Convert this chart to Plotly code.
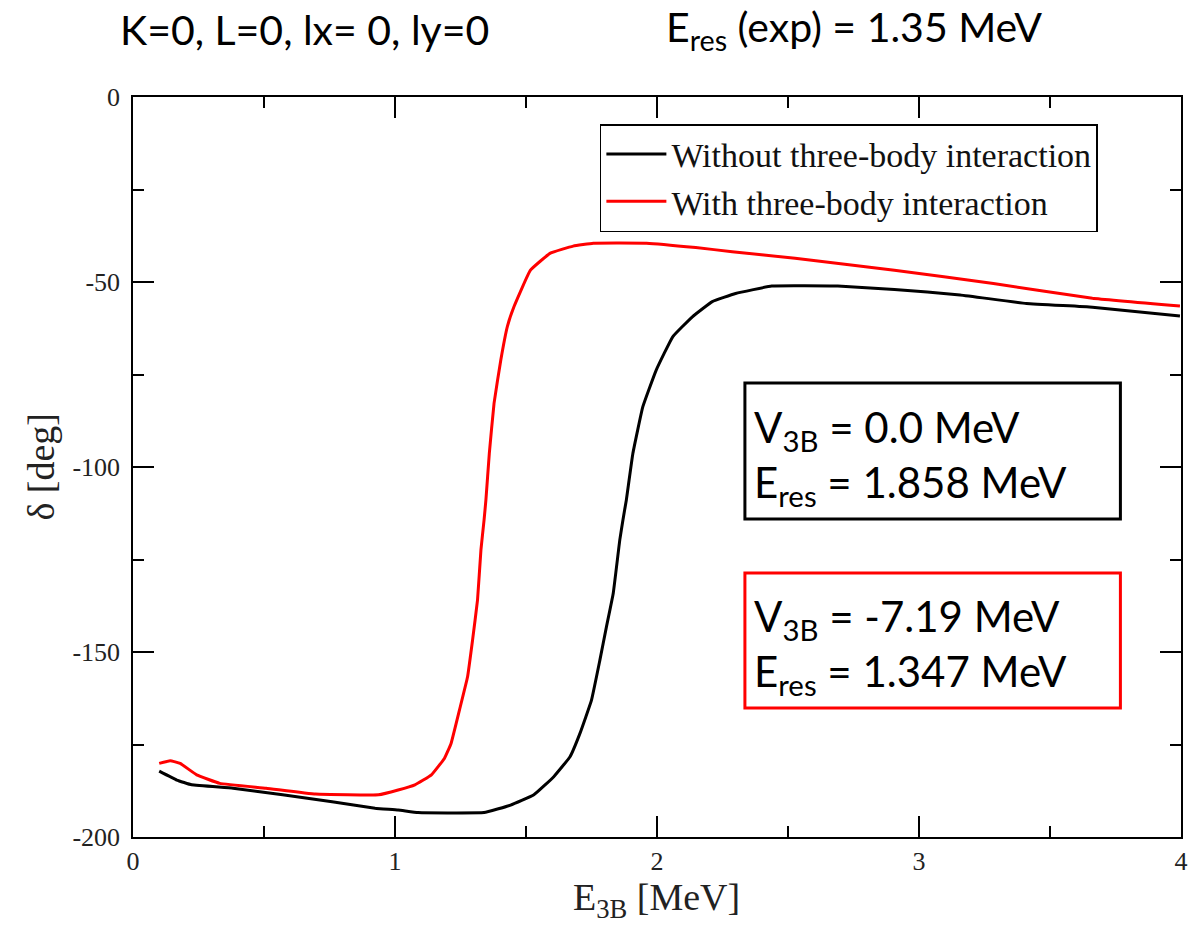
import plotly.graph_objects as go

# ---- data ----
e_without = [0.1, 0.167, 0.224, 0.382, 0.571, 0.76, 0.924, 1.012, 1.088, 1.2, 1.34, 1.441, 1.53,
             1.606, 1.668, 1.706, 1.75, 1.782, 1.807, 1.833, 1.858, 1.87, 1.883, 1.908, 1.946,
             1.997, 2.06, 2.135, 2.211, 2.3, 2.438, 2.69, 2.906, 3.157, 3.41, 3.662, 3.996]
d_without = [-182.2, -184.6, -185.9, -186.8, -188.6, -190.5, -192.2, -192.7, -193.4, -193.5,
             -193.4, -191.4, -188.6, -183.7, -178.3, -172.0, -163.0, -152.2, -143.2, -134.1,
             -119.7, -114.3, -108.9, -96.3, -83.7, -73.8, -64.8, -59.4, -55.3, -53.1, -51.1,
             -51.1, -52.0, -53.5, -55.8, -56.8, -59.2]

e_with = [0.1, 0.142, 0.18, 0.243, 0.331, 0.508, 0.697, 0.937, 1.012, 1.076, 1.139, 1.189, 1.214,
          1.246, 1.277, 1.296, 1.315, 1.328, 1.34, 1.347, 1.36, 1.378, 1.404, 1.429, 1.454, 1.517,
          1.593, 1.68, 1.757, 1.96, 2.148, 2.287, 2.527, 2.906, 3.284, 3.662, 3.996]
d_with = [-180.1, -179.4, -180.1, -183.2, -185.5, -186.8, -188.4, -188.6, -187.3, -185.9, -183.2,
          -178.7, -174.7, -165.7, -156.7, -146.8, -135.9, -122.4, -114.3, -108.9, -96.3, -82.8,
          -71.0, -62.0, -56.7, -46.8, -42.2, -40.3, -39.5, -39.5, -40.7, -41.8, -43.6, -46.8,
          -50.4, -54.4, -56.5]

x_tickvals = [0, 1, 2, 3, 4]
x_ticktext = ["0", "1", "2", "3", "4"]
y_tickvals = [0, -50, -100, -150, -200]
y_ticktext = ["0", "-50", "-100", "-150", "-200"]

series_names = ["Without three-body interaction", "With three-body interaction"]
title_left = "K=0, L=0, lx= 0, ly=0"
title_right = "E<sub>res</sub> (exp) = 1.35 MeV"
box1_lines = ["V<sub>3B</sub> = 0.0 MeV", "E<sub>res</sub> = 1.858 MeV"]
box2_lines = ["V<sub>3B</sub> = -7.19 MeV", "E<sub>res</sub> = 1.347 MeV"]

# ---- layout geometry (pixels) ----
W, H = 1196, 929
L, R, T, B = 133, 1188, 97, 837
pw, ph = R - L, B - T


def px(x):
    return (x - L) / pw


def py(y):
    return (B - y) / ph


serif = "Liberation Serif, Times New Roman, serif"
sans = "Lato, Open Sans, sans-serif"

fig = go.Figure()
fig.add_trace(go.Scatter(x=e_without, y=d_without, mode="lines", name=series_names[0],
                         line=dict(color="black", width=3, shape="spline", smoothing=0.3)))
fig.add_trace(go.Scatter(x=e_with, y=d_with, mode="lines", name=series_names[1],
                         line=dict(color="#ff0000", width=3, shape="spline", smoothing=0.3)))

axis_common = dict(showgrid=False, zeroline=False, showline=True, linecolor="black", linewidth=1.5,
                   mirror="ticks", ticks="inside", ticklen=21, tickwidth=1.5, tickcolor="black",
                   tickfont=dict(family=serif, size=26, color="#222"))

fig.update_xaxes(range=[0, 4], tickvals=x_tickvals, ticktext=x_ticktext,
                 minor=dict(dtick=0.5, ticks="inside", ticklen=11, tickwidth=1.5, tickcolor="black", showgrid=False),
                 ticklabelstandoff=0, **axis_common)
fig.update_yaxes(range=[-200, 0], tickvals=y_tickvals, ticktext=y_ticktext,
                 minor=dict(dtick=25, ticks="inside", ticklen=11, tickwidth=1.5, tickcolor="black", showgrid=False),
                 ticklabelstandoff=6, **axis_common)

annotations = [
    dict(text=title_left, x=px(118), y=py(30), xanchor="left", yanchor="middle",
         font=dict(family=sans, size=41, color="black")),
    dict(text=title_right, x=px(668), y=py(30), xanchor="left", yanchor="middle",
         font=dict(family=sans, size=41, color="black")),
    dict(text="E<sub>3B</sub> [MeV]", x=px(660), y=py(900), xanchor="center", yanchor="middle",
         font=dict(family=serif, size=38, color="#222")),
    dict(text="δ [deg]", x=px(40), y=py(467), xanchor="center", yanchor="middle", textangle=-90,
         font=dict(family=serif, size=38, color="#222")),
    dict(text=box1_lines[0], x=px(756), y=py(430), xanchor="left", yanchor="middle",
         font=dict(family=sans, size=42, color="black")),
    dict(text=box1_lines[1], x=px(756), y=py(485), xanchor="left", yanchor="middle",
         font=dict(family=sans, size=42, color="black")),
    dict(text=box2_lines[0], x=px(756), y=py(619), xanchor="left", yanchor="middle",
         font=dict(family=sans, size=42, color="black")),
    dict(text=box2_lines[1], x=px(756), y=py(674), xanchor="left", yanchor="middle",
         font=dict(family=sans, size=42, color="black")),
]
for a in annotations:
    a.update(xref="paper", yref="paper", showarrow=False)

shapes = [
    dict(type="rect", xref="paper", yref="paper", x0=px(749), x1=px(1127), y0=py(519), y1=py(383),
         line=dict(color="black", width=3)),
    dict(type="rect", xref="paper", yref="paper", x0=px(749), x1=px(1127), y0=py(708), y1=py(573),
         line=dict(color="#ff0000", width=3)),
]

fig.update_layout(
    width=W, height=H,
    margin=dict(l=L, r=W - R, t=T, b=H - B),
    paper_bgcolor="white", plot_bgcolor="white",
    showlegend=True,
    legend=dict(x=px(603), y=py(124), xanchor="left", yanchor="top",
                bordercolor="black", borderwidth=1.5, bgcolor="white",
                font=dict(family=serif, size=34, color="#111"),
                itemwidth=60, tracegroupgap=0),
    annotations=annotations, shapes=shapes,
)

fig.write_html("out.html")
